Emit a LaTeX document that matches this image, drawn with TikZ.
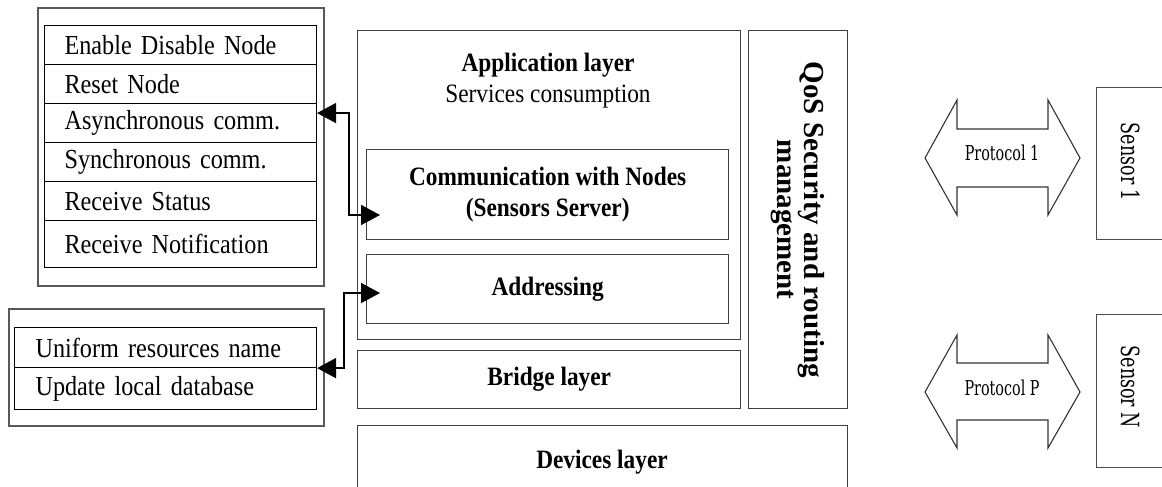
\documentclass[tikz,border=0pt]{standalone}
\usepackage{fontspec}
\setmainfont{Liberation Serif}[FakeStretch=0.88]
\newfontfamily\rotfont{Liberation Serif}
\newfontfamily\slabfont{DejaVu Serif}[FakeStretch=0.70]
\usetikzlibrary{arrows.meta,calc}
\newcommand\tightsp{\spaceskip=0.22em plus 0.05em\relax}
\begin{document}
\begin{tikzpicture}[x=1pt,y=-1pt,
  outerbox/.style={draw=black!65,line width=1.6pt,inner sep=0pt,anchor=north west},
  layerbox/.style={draw=black!75,line width=1.4pt,inner sep=0pt,anchor=north west},
  rowbox/.style={draw=black,line width=1.1pt,anchor=north west,inner ysep=0pt,inner xsep=5pt,
    text width=262pt,align=left,minimum height=39pt,
    font=\fontsize{27.5}{30}\selectfont\tightsp,execute at begin node={\hspace*{15pt}}},
  rowboxb/.style={draw=black,line width=1.1pt,anchor=north west,inner ysep=0pt,inner xsep=5pt,
    text width=292pt,align=left,minimum height=40pt,
    font=\fontsize{27.5}{30}\selectfont\tightsp,execute at begin node={\hspace*{16pt}}},
  lbl/.style={font=\bfseries\fontsize{26.5}{31}\selectfont\tightsp,align=center,inner sep=0pt},
  conn/.style={line width=1.6pt,draw=black},
  ctip/.tip={Triangle[length=19pt,width=20pt]},
  proto/.style={draw=black!80,line width=1.1pt,line join=miter},
  protolbl/.style={font=\slabfont\fontsize{20.5}{22}\selectfont\tightsp,inner sep=0pt},
  sensorlbl/.style={font=\slabfont\fontsize{25}{27}\selectfont\tightsp,inner sep=0pt,rotate=-90}
]
\useasboundingbox (0,0) rectangle (1162,487);

% ---------- left top list ----------
\node[outerbox,minimum width=286pt,minimum height=278pt] (ltop) at (37,7) {};
\node[rowbox] (r1) at (44,25) {Enable Disable Node};
\node[rowbox] (r2) at (44,64) {Reset Node};
\node[rowbox] (r3) at (44,103) {Asynchronous comm.};
\node[rowbox] (r4) at (44,142) {Synchronous comm.};
\node[rowbox] (r5) at (44,181) {Receive Status};
\node[rowbox,minimum height=47pt] (r6) at (44,220) {Receive Notification};

% ---------- left bottom list ----------
\node[outerbox,minimum width=315pt,minimum height=117pt] (lbot) at (8,308) {};
\node[rowboxb] (u1) at (14,327) {Uniform resources name};
\node[rowboxb,minimum height=42pt] (u2) at (14,367) {Update local database};

% ---------- layers ----------
\node[layerbox,minimum width=383pt,minimum height=309pt] (app) at (357,30) {};
\node[lbl] (applbl) at (548,81) {Application layer\\\mdseries Services consumption};
\node[layerbox,minimum width=362pt,minimum height=90pt,lbl] (comm) at (366,149)
  {Communication with Nodes\\(Sensors Server)};
\node[layerbox,minimum width=362pt,minimum height=69pt,lbl] (addr) at (366,254) {Addressing};
\node[layerbox,minimum width=383pt,minimum height=58pt,lbl] (bridge) at (357,350) {Bridge layer};
\node[layerbox,minimum width=99pt,minimum height=378pt] (qos) at (748,30) {};
\node[font=\rotfont\bfseries\fontsize{29}{27}\selectfont,align=center,rotate=-90,inner sep=0pt]
  (qoslbl) at (qos.center) {QoS Security and routing\\management};
\node[layerbox,minimum width=490pt,minimum height=75pt] (dev) at (357,425) {};
\node[lbl] (devlbl) at (602,462) {Devices layer};

% ---------- connectors ----------
\coordinate (j1) at (349,215);
\draw[conn,{ctip}-{ctip}] ([yshift=10pt]r3.east) -| (j1) -- ([xshift=14pt]comm.west |- j1);
\coordinate (j2) at (344,293);
\draw[conn,{ctip}-{ctip}] (u1.south east) -| (j2) -- ([xshift=14pt]addr.west |- j2);

% ---------- protocols and sensors ----------
\node[protolbl] (p1) at (1002,153) {Protocol 1};
\draw[proto] ($(p1)+(-77,5)$) -- ++(32,-58) -- ++(0,29) -- ++(91,0) -- ++(0,-29)
  -- ++(32,58) -- ++(-32,57) -- ++(0,-28) -- ++(-91,0) -- ++(0,28) -- cycle;
\node[protolbl] (pp) at (1002,388) {Protocol P};
\draw[proto] ($(pp)+(-77,4)$) -- ++(32,-57) -- ++(0,28) -- ++(91,0) -- ++(0,-28)
  -- ++(32,57) -- ++(-32,56) -- ++(0,-28) -- ++(-91,0) -- ++(0,28) -- cycle;

\node[layerbox,draw=black!70,minimum width=90pt,minimum height=152pt] (s1) at (1096,87) {};
\node[sensorlbl] (s1lbl) at (1131,162) {Sensor 1};
\node[layerbox,draw=black!70,minimum width=90pt,minimum height=153pt] (sn) at (1096,314) {};
\node[sensorlbl] (snlbl) at (1131,387) {Sensor N};
\end{tikzpicture}
\end{document}
